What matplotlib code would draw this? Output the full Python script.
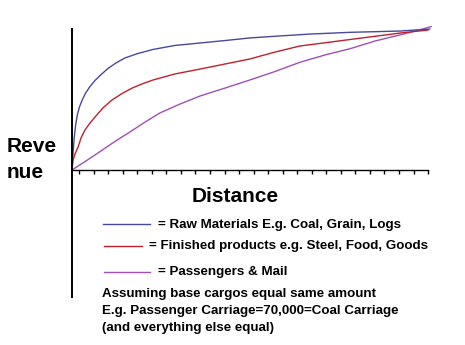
import matplotlib.pyplot as plt
import numpy as np
from matplotlib.lines import Line2D

# revenue against distance for the three cargo groups (revenue scaled 0-100)
raw_dist = [0, 0.3, 0.6, 1.0, 1.5, 2.1, 2.9, 3.8, 5.0, 6.4, 8.1, 10.0,
            12.2, 14.7, 18.3, 22.5, 28.6, 35.6, 42.5, 49.4, 57.8, 66.1, 77.2,
            91.1, 99.4]
raw_rev = [0, 12.0, 22.0, 31.0, 38.5, 44.0, 49.0, 53.5, 58.0, 62.2, 66.3, 70.5,
           74.3, 77.8, 80.9, 83.7, 86.5, 88.2, 89.9, 91.7, 93.1, 94.4, 95.6,
           96.5, 97.9]

fin_dist = [0, 0.28, 0.83, 1.7, 2.5, 3.6, 5.0, 6.4, 8.6, 11.1, 13.9, 16.7,
            19.4, 22.5, 28.6, 35.6, 42.5, 49.4, 56.4, 63.3, 77.2, 91.1, 98.9]
fin_rev = [0, 6.9, 11.1, 16.0, 22.2, 27.8, 32.6, 36.8, 43.1, 48.6, 53.1, 56.9,
           59.7, 62.5, 66.7, 70.1, 73.6, 77.1, 81.9, 86.1, 90.6, 95.1, 97.2]

pax_dist = [0, 3.9, 7.8, 11.9, 16.1, 20.3, 24.4, 30.0, 35.6, 42.5, 49.4, 56.4,
            63.3, 70.3, 77.2, 84.2, 91.1, 96.4, 100.3]
pax_rev = [0, 6.3, 12.8, 19.8, 26.4, 33.3, 39.6, 45.8, 51.4, 56.9, 62.5, 68.4,
           74.8, 79.9, 84.2, 89.6, 93.8, 97.2, 100]

tick_pos = np.linspace(2.0, 98.9, 25)

labels = ["= Raw Materials E.g. Coal, Grain, Logs",
          "= Finished products e.g. Steel, Food, Goods",
          "= Passengers & Mail"]
colors = ["#4848a0", "#c0202c", "#a050b0"]
note = ["Assuming base cargos equal same amount",
        "E.g. Passenger Carriage=70,000=Coal Carriage",
        "(and everything else equal)"]

plt.rcParams['font.family'] = ['Liberation Sans', 'DejaVu Sans']

W, H = 465, 345
fig = plt.figure(figsize=(W / 100, H / 100), dpi=100)

def fx(x):
    return x / W

def fy(y):
    return 1 - y / H

# plot area: x 72..432 px, y 297..26 px
ax = fig.add_axes([fx(72), fy(297), fx(432) - fx(72), fy(26) - fy(297)])
ax.set_xlim(0, 100)
ax.set_ylim(-88.2, 100)

ax.plot(pax_dist, pax_rev, color=colors[2], lw=1)
ax.plot(fin_dist, fin_rev, color=colors[1], lw=1)
ax.plot(raw_dist, raw_rev, color=colors[0], lw=1)

for s in ['top', 'right']:
    ax.spines[s].set_visible(False)
ax.spines['bottom'].set_position(('data', 0))
ax.spines['bottom'].set_bounds(0, 98.9)
ax.spines['left'].set_bounds(-88.2, 97.9)
ax.spines['left'].set_linewidth(1.4)
ax.spines['bottom'].set_linewidth(1.0)
ax.set_xticks(tick_pos)
ax.set_xticklabels([])
ax.tick_params(axis='x', direction='out', length=3, width=1)
ax.set_yticks([])

fig.text(fx(7), fy(147), "Reve", fontsize=15, fontweight='bold', va='center')
fig.text(fx(7), fy(172), "nue", fontsize=15, fontweight='bold', va='center')
fig.text(fx(235), fy(197), "Distance", fontsize=15, fontweight='bold',
         va='center', ha='center')

# key
rows = [(103, 150, 158, 225), (104, 142, 149, 246.5), (104, 150, 158, 272.5)]
for (x0, x1, tx, y), lab, c in zip(rows, labels, colors):
    fig.add_artist(Line2D([fx(x0), fx(x1)], [fy(y - 1), fy(y - 1)], color=c, lw=1))
    fig.text(fx(tx), fy(y), lab, fontsize=9.6, fontweight='bold', va='center')

for i, line in enumerate(note):
    fig.text(fx(102), fy(294 + i * 16.8), line, fontsize=9.6, fontweight='bold',
             va='center')

fig.savefig("out.png", dpi=100)
